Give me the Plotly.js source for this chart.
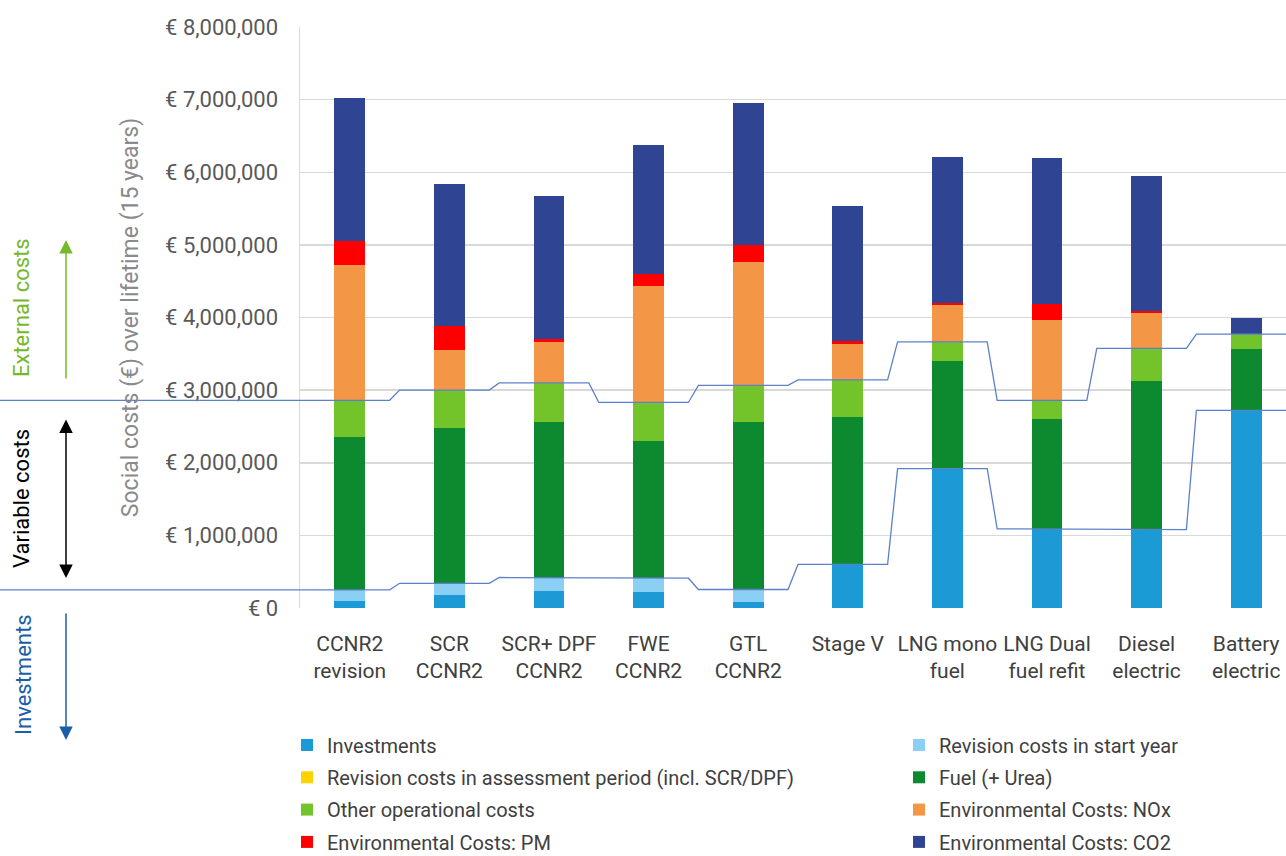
<!DOCTYPE html>
<html><head><meta charset="utf-8">
<script src="https://cdn.plot.ly/plotly-3.0.1.min.js"></script>
<style>body{margin:0;background:#fff}#chart{width:1286px;height:856px}</style>
</head><body><div id="chart"></div>
<script>
// ---- data (EUR) ----
const categories = ["CCNR2<br>revision","SCR<br>CCNR2","SCR+ DPF<br>CCNR2","FWE<br>CCNR2","GTL<br>CCNR2","Stage V","LNG mono<br>fuel","LNG Dual<br>fuel refit","Diesel<br>electric","Battery<br>electric"];
const investments    = [90000, 180000, 240000, 220000, 85000, 600000, 1920000, 1090000, 1080000, 2720000];
const revisionStart  = [160000, 160000, 180000, 190000, 170000, 0, 0, 0, 0, 0];
const revisionPeriod = [0, 0, 0, 0, 0, 0, 0, 0, 0, 0];
const fuel           = [2100000, 2140000, 2135000, 1890000, 2310000, 2030000, 1480000, 1510000, 2040000, 840000];
const otherOps       = [510000, 520000, 545000, 530000, 500000, 510000, 265000, 260000, 455000, 210000];
const noxCosts       = [1860000, 550000, 560000, 1610000, 1700000, 500000, 510000, 1100000, 490000, 0];
const pmCosts        = [330000, 330000, 40000, 160000, 230000, 40000, 30000, 220000, 30000, 0];
const co2Costs       = [1970000, 1960000, 1970000, 1770000, 1960000, 1860000, 2010000, 2020000, 1855000, 225000];
const yTickValues    = [0, 1000000, 2000000, 3000000, 4000000, 5000000, 6000000, 7000000, 8000000];
const yTickLabels    = ["€ 0","€ 1,000,000","€ 2,000,000","€ 3,000,000","€ 4,000,000","€ 5,000,000","€ 6,000,000","€ 7,000,000","€ 8,000,000"];
const seriesNames = ["Investments","Revision costs in start year","Revision costs in assessment period (incl. SCR/DPF)","Fuel (+ Urea)","Other operational costs","Environmental Costs: NOx","Environmental Costs: PM","Environmental Costs: CO2"];

// ---- styling ----
const FONT = "Roboto, 'Open Sans', sans-serif";
const seriesColors = ["#1b9ad6","#8ccff5","#ffd200","#0d8a30","#72c42a","#f39645","#ff0000","#2f4492"];
const seriesLegend = ["legend","legend2","legend","legend2","legend","legend2","legend","legend2"];
const seriesValues = [investments, revisionStart, revisionPeriod, fuel, otherOps, noxCosts, pmCosts, co2Costs];
const X_MIN = -0.5, X_MAX = 9.4;
const LINE_COLOR = "#5d80cb";
const PL = 300, PW = 986, PT = 27, PH = 581;
const px2x = x => (x - PL) / PW;
const px2y = y => (PT + PH - y) / PH;

const idx = categories.map((_, i) => i);
const traces = seriesValues.map((vals, s) => ({
  type: "bar", x: idx, y: vals, name: seriesNames[s],
  marker: {color: seriesColors[s], line: {width: 0}},
  width: 0.31, legend: seriesLegend[s], legendgroup: "g" + s,
  hoverinfo: "y+name"
}));

// connector step lines derived from the bars
const lowerLevel = idx.map(i => investments[i] + revisionStart[i] + revisionPeriod[i]);
const upperLevel = idx.map(i => lowerLevel[i] + fuel[i] + otherOps[i]);
function stepLine(levels) {
  const xs = [], ys = [];
  levels.forEach((v, i) => {
    xs.push(i === 0 ? X_MIN : i - 0.5); ys.push(v);
    xs.push(i === levels.length - 1 ? X_MAX : i + 0.4); ys.push(v);
  });
  return {xs, ys};
}
[lowerLevel, upperLevel].forEach(lv => {
  const st = stepLine(lv);
  traces.push({type: "scatter", mode: "lines", x: st.xs, y: st.ys, showlegend: false,
    hoverinfo: "skip", line: {color: LINE_COLOR, width: 1.3}});
});

const shapes = [lowerLevel[0], upperLevel[0]].map(v => ({
  type: "line", xref: "paper", yref: "y", x0: px2x(0), x1: 0, y0: v, y1: v,
  line: {color: LINE_COLOR, width: 1.3}
}));

const green = "#76b82a", blue = "#1b5ea8";
const annotations = [
  {text: "External costs", x: px2x(21), y: px2y(308), textangle: -90, font: {size: 22, color: green}},
  {text: "Variable costs", x: px2x(21), y: px2y(499), textangle: -90, font: {size: 22, color: "#000"}},
  {text: "Investments", x: px2x(23), y: px2y(675), textangle: -90, font: {size: 22, color: blue}},
  {text: "", x: px2x(66), y: px2y(240), showarrow: true, ax: 0, ay: 140, arrowcolor: green, arrowwidth: 1.5, arrowhead: 2, arrowsize: 1.8},
  {text: "", x: px2x(66), y: px2y(578), showarrow: true, ax: 0, ay: -160, arrowcolor: "#000", arrowwidth: 1.5, arrowhead: 2, startarrowhead: 2, arrowside: "end+start", arrowsize: 1.8, startarrowsize: 1.8},
  {text: "", x: px2x(66), y: px2y(740), showarrow: true, ax: 0, ay: -128, arrowcolor: blue, arrowwidth: 1.5, arrowhead: 2, arrowsize: 1.8}
].map(a => Object.assign({xref: "paper", yref: "paper", showarrow: false, xanchor: "center", yanchor: "middle"}, a));

const legendCommon = {
  orientation: "v", xanchor: "left", yanchor: "top", traceorder: "grouped",
  tracegroupgap: 3.3, font: {family: FONT, size: 20, color: "#404040"},
  bgcolor: "rgba(0,0,0,0)", borderwidth: 0, itemclick: false
};

const layout = {
  width: 1286, height: 856,
  margin: {l: PL, r: 1286 - PL - PW, t: PT, b: 856 - PT - PH, autoexpand: false},
  paper_bgcolor: "#fff", plot_bgcolor: "#fff",
  font: {family: FONT},
  barmode: "stack",
  xaxis: {
    type: "linear", range: [X_MIN, X_MAX], tickvals: idx, ticktext: categories,
    showgrid: false, zeroline: false, showline: false, ticks: "",
    tickfont: {family: FONT, size: 21, color: "#404040"}, ticklabelstandoff: 21, fixedrange: true
  },
  yaxis: {
    range: [0, 8000000], tickmode: "array", tickvals: yTickValues, ticktext: yTickLabels,
    showgrid: true, gridcolor: "#d9d9d9", gridwidth: 1.5, zeroline: false,
    showline: true, linecolor: "#d9d9d9", linewidth: 1.5, ticks: "",
    tickfont: {family: FONT, size: 22, color: "#595959"}, ticklabelstandoff: 16,
    title: {text: "Social costs (€) over lifetime (15 years)", font: {family: FONT, size: 23, color: "#8a8a8a"}, standoff: 20},
    fixedrange: true
  },
  legend: Object.assign({x: px2x(287), y: px2y(725.5)}, legendCommon),
  legend2: Object.assign({x: px2x(899), y: px2y(725.5)}, legendCommon),
  shapes: shapes,
  annotations: annotations
};

Plotly.newPlot("chart", traces, layout, {displayModeBar: false, staticPlot: true});
</script>
</body></html>
